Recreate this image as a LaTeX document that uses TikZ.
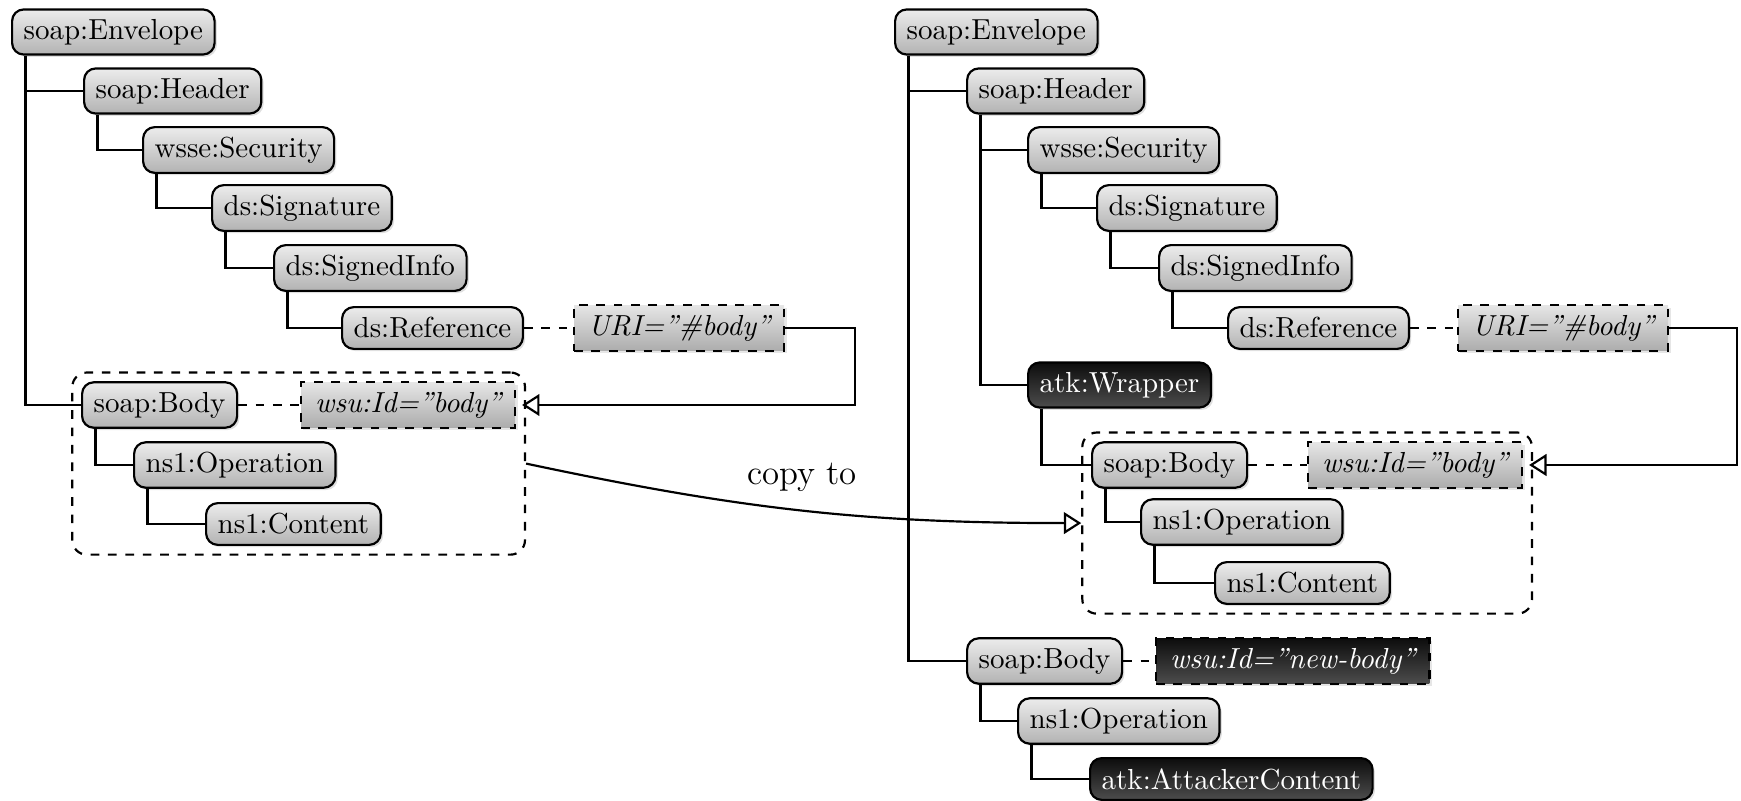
\documentclass[tikz,border=0pt]{standalone}
\usepackage{tikz}
\usetikzlibrary{arrows.meta}
\usetikzlibrary{shadows,fit}

\begin{document}
\begin{tikzpicture}[x=0.345pt, y=-0.345pt,
    elem/.style={draw, line width=0.75pt, rounded corners=4pt, anchor=west,
      top color=gray!15, bottom color=gray!60, minimum height=14.4pt, inner xsep=4pt,
      drop shadow={opacity=0.25, shadow xshift=0.8pt, shadow yshift=-0.8pt}},
    evil/.style={elem, top color=black!95, bottom color=black!70, text=white},
    attr/.style={draw, dashed, line width=0.75pt, anchor=west, font=\itshape,
      top color=gray!20, bottom color=gray!65, minimum height=14.4pt, inner xsep=4.8pt,
      drop shadow={opacity=0.2, shadow xshift=0.8pt, shadow yshift=-0.8pt}},
    evilattr/.style={attr, top color=black!95, bottom color=black!70, text=white},
    branch/.style={line width=0.75pt},
    link/.style={dashed, line width=0.75pt},
    ref/.style={line width=0.75pt, -{Triangle[open, length=6pt, width=7.5pt]}},
    group/.style={draw, dashed, line width=0.75pt, rounded corners=5pt, inner sep=3pt}]
  \useasboundingbox (0,0) rectangle (1741,801);
  \def\drop{5pt}

  % signed message
  \node[elem] (envL) at (11,32) {soap:Envelope};
  \node[elem] (hdrL) at (83,91) {soap:Header};
  \node[elem] (secL) at (142,150) {wsse:Security};
  \node[elem] (sigL) at (211,208) {ds:Signature};
  \node[elem] (siL) at (273,268) {ds:SignedInfo};
  \node[elem] (refL) at (341,328) {ds:Reference};
  \node[attr] (uriL) at (573,328) {URI=”\#body”};
  \node[elem] (bodyL) at (81,405) {soap:Body};
  \node[attr] (idL) at (300,405) {wsu:Id=”body”};
  \node[elem] (opL) at (133,465) {ns1:Operation};
  \node[elem] (contL) at (205,524) {ns1:Content};
  \node[group, fit=(bodyL)(idL)(opL)(contL)] (grpL) {};

  \draw[branch] ([xshift=\drop]envL.south west) |- (hdrL.west);
  \draw[branch] ([xshift=\drop]envL.south west) |- (bodyL.west);
  \draw[branch] ([xshift=\drop]hdrL.south west) |- (secL.west);
  \draw[branch] ([xshift=\drop]secL.south west) |- (sigL.west);
  \draw[branch] ([xshift=\drop]sigL.south west) |- (siL.west);
  \draw[branch] ([xshift=\drop]siL.south west) |- (refL.west);
  \draw[branch] ([xshift=\drop]bodyL.south west) |- (opL.west);
  \draw[branch] ([xshift=\drop]opL.south west) |- (contL.west);
  \draw[link] (refL) -- (uriL);
  \draw[link] (bodyL) -- (idL);
  \coordinate (turnL) at (855,0);
  \draw[ref] (uriL.east) -| (turnL |- idL) -- ([xshift=2pt]idL.east);

  % wrapped message
  \node[elem] (envR) at (894,32) {soap:Envelope};
  \node[elem] (hdrR) at (966,91) {soap:Header};
  \node[elem] (secR) at (1027,150) {wsse:Security};
  \node[elem] (sigR) at (1096,208) {ds:Signature};
  \node[elem] (siR) at (1158,268) {ds:SignedInfo};
  \node[elem] (refR) at (1227,328) {ds:Reference};
  \node[attr] (uriR) at (1457,328) {URI=”\#body”};
  \node[evil] (wrapR) at (1027,385) {atk:Wrapper};
  \node[elem] (bodyR) at (1091,465) {soap:Body};
  \node[attr] (idR) at (1307,465) {wsu:Id=”body”};
  \node[elem] (opR) at (1140,522) {ns1:Operation};
  \node[elem] (contR) at (1214,583) {ns1:Content};
  \node[group, fit=(bodyR)(idR)(opR)(contR)] (grpR) {};
  \node[elem] (body2R) at (966,661) {soap:Body};
  \node[evilattr] (id2R) at (1155,661) {wsu:Id=”new-body”};
  \node[elem] (op2R) at (1017,721) {ns1:Operation};
  \node[evil] (atkR) at (1089,779) {atk:AttackerContent};

  \draw[branch] ([xshift=\drop]envR.south west) |- (hdrR.west);
  \draw[branch] ([xshift=\drop]envR.south west) |- (body2R.west);
  \draw[branch] ([xshift=\drop]hdrR.south west) |- (secR.west);
  \draw[branch] ([xshift=\drop]hdrR.south west) |- (wrapR.west);
  \draw[branch] ([xshift=\drop]secR.south west) |- (sigR.west);
  \draw[branch] ([xshift=\drop]sigR.south west) |- (siR.west);
  \draw[branch] ([xshift=\drop]siR.south west) |- (refR.west);
  \draw[branch] ([xshift=\drop]wrapR.south west) |- (bodyR.west);
  \draw[branch] ([xshift=\drop]bodyR.south west) |- (opR.west);
  \draw[branch] ([xshift=\drop]opR.south west) |- (contR.west);
  \draw[branch] ([xshift=\drop]body2R.south west) |- (op2R.west);
  \draw[branch] ([xshift=\drop]op2R.south west) |- (atkR.west);
  \draw[link] (refR) -- (uriR);
  \draw[link] (bodyR) -- (idR);
  \draw[link] (body2R) -- (id2R);
  \coordinate (turnR) at (1737,0);
  \draw[ref] (uriR.east) -| (turnR |- idR) -- ([xshift=2pt]idR.east);

  \node (copy) at (802,477) {\large copy to};
  \draw[ref] (grpL.east) to[out=-12, in=180] (grpR.west);
\end{tikzpicture}
\end{document}
